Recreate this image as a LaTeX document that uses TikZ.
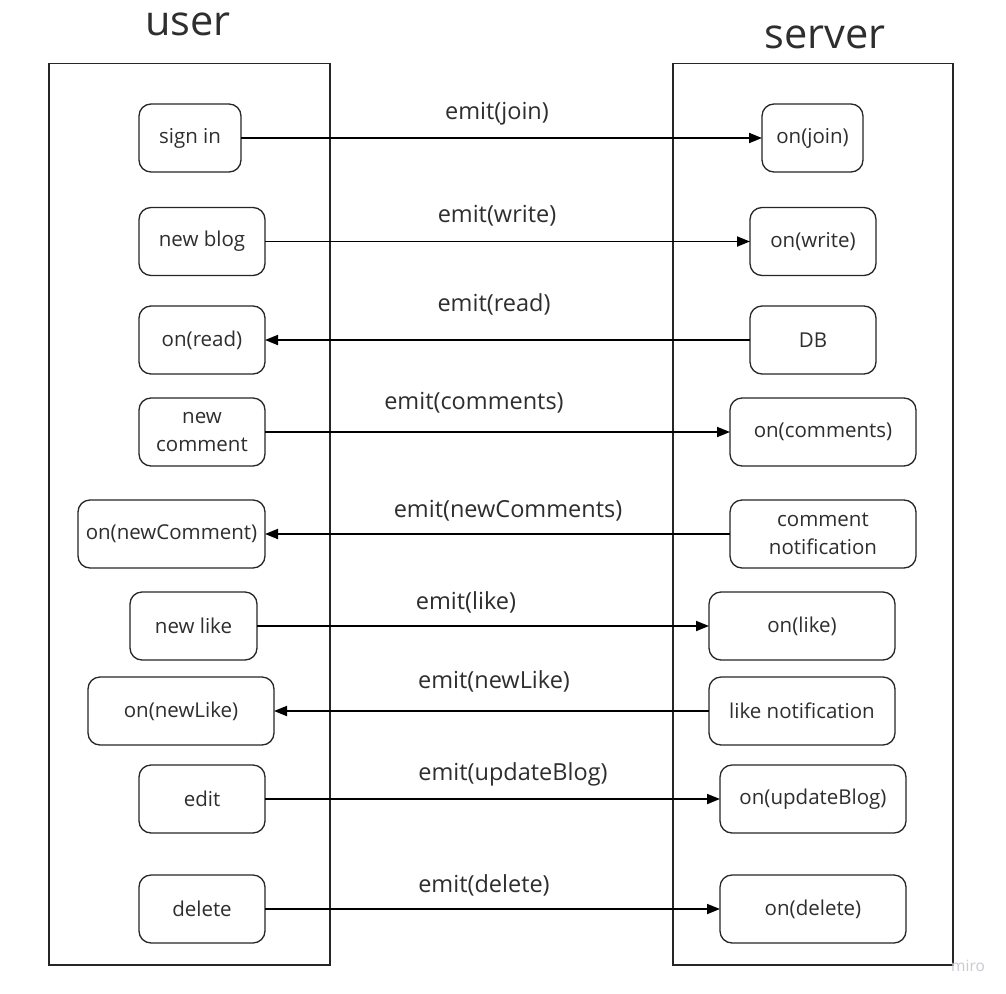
\documentclass[tikz,border=0pt]{standalone}
\usepackage{fontspec}
\setmainfont{Open Sans}
\usetikzlibrary{arrows.meta}
\definecolor{txt}{HTML}{2E2E2E}
\definecolor{miro}{HTML}{C9CAD3}
\tikzset{
  lane/.style={draw=black!85, line width=1.3pt},
  box/.style={draw=black!85, line width=1.3pt, rounded corners=12pt, inner sep=0pt, outer sep=0pt,
    minimum height=68pt, text=txt, align=center, font=\fontsize{20.5}{28.5}\selectfont},
  msg/.style={line width=1.8pt, -{Triangle[length=13pt,width=10pt]}},
  lbl/.style={anchor=base, text=txt, inner sep=0pt, font=\fontsize{23.5}{28}\selectfont},
  ttl/.style={anchor=base, text=txt, inner sep=0pt, font=\fontsize{41.5}{48}\selectfont}
}
\begin{document}
\begin{tikzpicture}[x=1pt,y=-1pt]
\useasboundingbox[fill=white] (0,0) rectangle (1006,993);
% lanes
\draw[lane] (49,63.5) rectangle (330,965);
\draw[lane] (673,63.5) rectangle (953,965);
\node[ttl] (tu) at (188,35) {user};
\node[ttl] (ts) at (825,48) {server};
% left boxes
\node[box, minimum width=102pt] (l1) at (190,138) {sign in};
\node[box, minimum width=126pt] (l2) at (202,241.5) {new blog};
\node[box, minimum width=126pt] (l3) at (202,340) {on(read)};
\node[box, minimum width=126pt] (l4) at (202,432) {new\\comment};
\node[box, minimum width=187pt] (l5) at (171.5,534) {on(newComment)};
\node[box, minimum width=127pt] (l6) at (193.5,626) {new like};
\node[box, minimum width=186pt] (l7) at (181,711) {on(newLike)};
\node[box, minimum width=126pt] (l8) at (202,799) {edit};
\node[box, minimum width=126pt] (l9) at (202,909) {delete};
% right boxes
\node[box, minimum width=101pt] (r1) at (812.5,138) {on(join)};
\node[box, minimum width=126pt] (r2) at (813,241.5) {on(write)};
\node[box, minimum width=126pt] (r3) at (813,340) {DB};
\node[box, minimum width=186pt] (r4) at (823,432) {on(comments)};
\node[box, minimum width=186pt] (r5) at (823,534) {comment\\notification};
\node[box, minimum width=186pt] (r6) at (802,626) {on(like)};
\node[box, minimum width=186pt] (r7) at (802,711) {like notification};
\node[box, minimum width=186pt] (r8) at (813,799) {on(updateBlog)};
\node[box, minimum width=186pt] (r9) at (813,909) {on(delete)};
% messages
\draw[msg] (l1) -- (r1);
\draw[msg] (l2) -- (r2);
\draw[msg] (r3) -- (l3);
\draw[msg] (l4) -- (r4);
\draw[msg] (r5) -- (l5);
\draw[msg] (l6) -- (r6);
\draw[msg] (r7) -- (l7);
\draw[msg] (l8) -- (r8);
\draw[msg] (l9) -- (r9);
% labels
\node[lbl] (m1) at (497,119) {emit(join)};
\node[lbl] (m2) at (497,222) {emit(write)};
\node[lbl] (m3) at (494,311) {emit(read)};
\node[lbl] (m4) at (474,409) {emit(comments)};
\node[lbl] (m5) at (508,517) {emit(newComments)};
\node[lbl] (m6) at (466,609) {emit(like)};
\node[lbl] (m7) at (494,688) {emit(newLike)};
\node[lbl] (m8) at (513,780) {emit(updateBlog)};
\node[lbl] (m9) at (484,892) {emit(delete)};
% watermark
\node[anchor=base west, text=miro, inner sep=0pt, font=\fontsize{15.5}{17}\selectfont] (wm) at (951,971) {miro};
\end{tikzpicture}
\end{document}
